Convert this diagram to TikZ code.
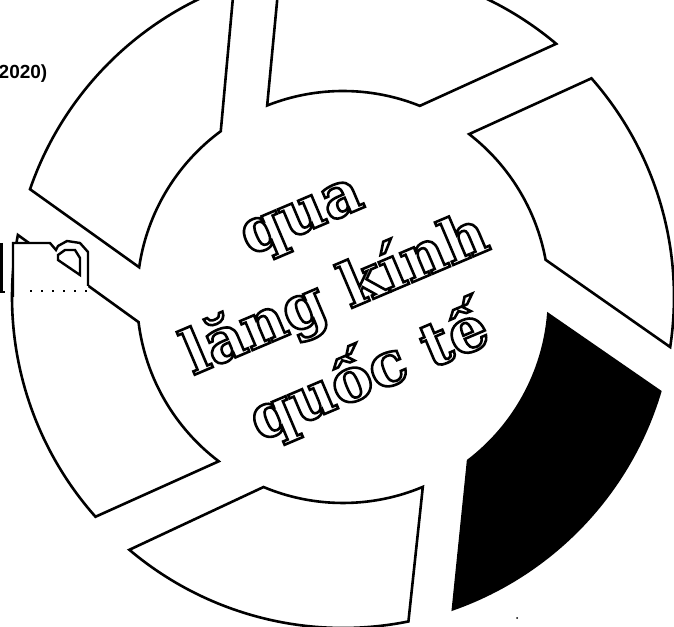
\documentclass[tikz,border=0pt]{standalone}
\usepackage{fontspec}
\setmainfont{DejaVu Serif}
\newfontfamily\labelfont{Liberation Sans}
\usetikzlibrary{calc}
\tikzset{
  blade/.style = {draw=black, line width=2.6pt, fill=white},
  lenstext/.style = {
    font=\bfseries\fontsize{61}{80}\selectfont, text=white,
    anchor=base, rotate=23, inner sep=0pt
  },
  glyphline/.style = {draw=black, line width=2.4pt}
}
% outlined letters: white fill, black stroke
\newcommand{\outlined}[1]{\special{pdf:literal direct 2 Tr 2.6 w 0 G}#1\special{pdf:literal direct 0 Tr}}
\newcommand{\bladein}{206}
\newcommand{\bladeout}{331}

\begin{document}
\begin{tikzpicture}[x=1pt, y=1pt]
\useasboundingbox (0,0) rectangle (674,626);
\clip (0,0) rectangle (674,626);
\coordinate (C) at (343,329);

%% Blades: inner from/to, outer from/to, fill
\foreach \ia/\ib/\oa/\ob/\fillc in {
    126.4/171.7/109.2/161.0/white,
    68.1/111.6/49.9/101.0/white,
    10.4/52.25/-8.7/41.35/white,
    -52.6/-4.8/-70.6/-16.6/black,
    -112.7/-67.2/-130.2/-78.6/white,
    187.0/232.9/169.2/221.6/white}
  \draw[blade, fill=\fillc] ($(C)+(\oa:\bladeout)$)
    arc[start angle=\oa, end angle=\ob, radius=\bladeout]
    -- ($(C)+(\ib:\bladein)$)
    arc[start angle=\ib, end angle=\ia, radius=\bladein] -- cycle;

%% Letter fragment at the left edge
\fill[white] (13,329) -- (13,383) -- (50,383) -- (56,376) -- (58,380)
  -- (67,385) -- (80,383) -- (88,374) -- (88,340) -- (88,329) -- cycle;
\draw[glyphline] (13,329) -- (13,383) -- (50,383) -- (56,376) -- (58,380)
  -- (67,385) -- (80,383) -- (88,374) -- (88,340);
\draw[glyphline] (58,371) -- (65,376) -- (75,376) -- (80,368)
  -- (80,351) -- (58,366) -- cycle;
\draw[glyphline] (1.5,383) -- (1.5,334) -- (5,334);
\draw[line width=1.5pt, dash pattern=on 2pt off 9pt] (30,335) -- (95,335);
\fill (517,8) circle (1);

%% Texts
\node[font=\labelfont\bfseries\fontsize{19}{23}\selectfont,
      anchor=base east, inner sep=0pt] (yr) at (47.5,547) {2020)};
\node[lenstext] (qua)    at (308,395)   {\outlined{qua}};
\node[lenstext] (lang)   at (342.5,314) {\outlined{lăng kính}};
\node[lenstext] (quocte) at (376.5,234) {\outlined{quốc tế}};

\end{tikzpicture}
\end{document}
